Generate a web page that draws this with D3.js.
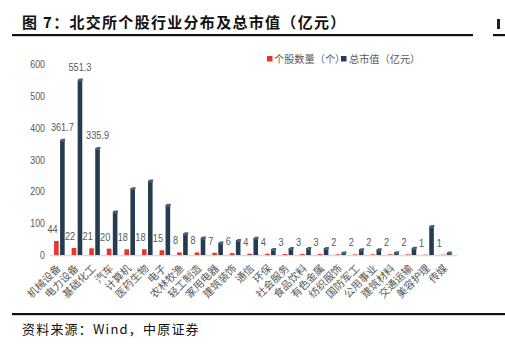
<!DOCTYPE html>
<html><head><meta charset="utf-8">
<script src="https://cdn.jsdelivr.net/npm/d3@7"></script>
<style>
html,body{margin:0;padding:0;background:#fff;}
svg{display:block;}
</style></head>
<body>
<svg id="c" width="505" height="347"></svg>
<script>
const categories = ["机械设备","电力设备","基础化工","汽车","计算机","医药生物","电子","农林牧渔","轻工制造","家用电器","建筑装饰","通信","环保","社会服务","食品饮料","有色金属","纺织服饰","国防军工","公用事业","建筑材料","交通运输","美容护理","传媒"];
const stockCounts = [44,22,21,20,18,18,15,8,8,7,6,4,4,3,3,3,2,2,2,2,2,1,1];
const marketValues = [361.7,551.3,335.9,137,210,234,158,68,55,39,47,54,19,22,22,22,8,18,18,9,23,91,8];
const labeledValues = ["361.7","551.3","335.9"];
const yTicks = [0,100,200,300,400,500,600];
const seriesNames = ["个股数量（个）","总市值（亿元）"];
const titleText = "图 7：北交所个股行业分布及总市值（亿元）";
const sourceText = "资料来源：Wind，中原证券";

const RED = "#e8352e", DARK = "#253c50", GRAY = "#595959";
const numFont = "'Liberation Sans',Arial,sans-serif";
const cjk = "'Noto Sans CJK SC','Noto Sans',sans-serif";
const SX = 0.8;

const svg = d3.select("#c");

// header
svg.append("text").attr("x",22).attr("y",28)
  .attr("font-family",cjk).attr("font-weight","bold").attr("font-size",15)
  .attr("letter-spacing",1.3).attr("fill","#111").text(titleText);
svg.append("rect").attr("x",12).attr("y",34).attr("width",461).attr("height",2.2).attr("fill","#111");
svg.append("rect").attr("x",493).attr("y",34).attr("width",12).attr("height",2.2).attr("fill","#111");
svg.append("rect").attr("x",497).attr("y",19).attr("width",3).attr("height",10).attr("fill","#222");

// scales
const x = d3.scaleBand().domain(categories).range([50.7,455]).paddingInner(0).paddingOuter(0);
const y = d3.scaleLinear().domain([0,600]).range([255,64]);

// y axis labels
const yAxis = d3.axisLeft(y).tickValues(yTicks).tickSize(0).tickPadding(0);
const gy = svg.append("g").attr("transform","translate(45,0)").call(yAxis);
gy.select(".domain").remove();
gy.selectAll(".tick text").attr("font-family",numFont).attr("font-size",11).attr("fill",GRAY)
  .attr("x",0).attr("transform",`scale(${SX},1)`);

// floor line
svg.append("line").attr("x1",50).attr("x2",457).attr("y1",255.5).attr("y2",255.5)
  .attr("stroke","#d9d9d9").attr("stroke-width",1.5);

const bw = 4.6;
const cx = d => x(d) + x.bandwidth()/2;

// red bars
svg.append("g").selectAll("rect").data(categories).join("rect")
  .attr("x",(d)=>cx(d)-5.4).attr("width",bw)
  .attr("y",(d,i)=>y(stockCounts[i])).attr("height",(d,i)=>y(0)-y(stockCounts[i]))
  .attr("fill",RED);
// dark bars
svg.append("g").selectAll("rect").data(categories).join("rect")
  .attr("x",(d)=>cx(d)+0.6).attr("width",bw)
  .attr("y",(d,i)=>y(marketValues[i])).attr("height",(d,i)=>y(0)-y(marketValues[i]))
  .attr("fill",DARK);
// top caps (3D look)
svg.append("g").selectAll("path").data(categories).join("path")
  .attr("d",(d,i)=>{const x0=cx(d)+0.6, t=y(marketValues[i]);
     return `M${x0},${t+2} L${x0+1.5},${t-1} L${x0+bw+0.8},${t-1} L${x0+bw},${t+2} Z`;})
  .attr("fill","#4b6275");

// count labels
svg.append("g").selectAll("text").data(categories).join("text")
  .attr("transform",(d,i)=>`translate(${cx(d)-7},${y(stockCounts[i])-8}) scale(${SX},1)`)
  .attr("text-anchor","middle").attr("font-family",numFont).attr("font-size",11.5).attr("fill",GRAY)
  .text((d,i)=>stockCounts[i]);
// value labels (top three)
svg.append("g").selectAll("text").data(labeledValues).join("text")
  .attr("transform",(d,i)=>`translate(${cx(categories[i])+2.9},${y(marketValues[i])-9}) scale(${SX},1)`)
  .attr("text-anchor","middle").attr("font-family",numFont).attr("font-size",11.5).attr("fill",GRAY)
  .text(d=>d);

// x labels
const xAxis = d3.axisBottom(x).tickSize(0).tickPadding(0);
const gx = svg.append("g").attr("transform","translate(0,269)").call(xAxis);
gx.select(".domain").remove();
gx.selectAll("text").attr("font-family",cjk).attr("font-size",10.5).attr("fill",GRAY)
  .attr("text-anchor","end").attr("dy",0).attr("dx",0).attr("y",0)
  .attr("transform","translate(2,0) rotate(-45)");

// legend
const leg = svg.append("g").attr("font-family",cjk).attr("font-size",10.2).attr("fill",GRAY);
leg.append("rect").attr("x",267).attr("y",56).attr("width",5.5).attr("height",5.5).attr("fill",RED);
leg.append("text").attr("x",274).attr("y",63).text(seriesNames[0]);
leg.append("rect").attr("x",341).attr("y",56).attr("width",5.5).attr("height",5.5).attr("fill",DARK);
leg.append("text").attr("x",349).attr("y",63).text(seriesNames[1]);

// footer
svg.append("rect").attr("x",12).attr("y",313).attr("width",493).attr("height",2.2).attr("fill","#111");
svg.append("text").attr("x",22).attr("y",334).attr("font-family",cjk).attr("font-size",13)
  .attr("letter-spacing",1.2).attr("fill","#111").text(sourceText);
</script>
</body></html>
